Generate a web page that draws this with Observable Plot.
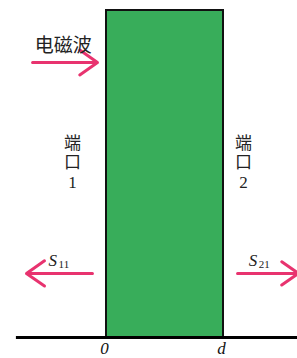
<!DOCTYPE html>
<html><head><meta charset="utf-8">
<script src="https://cdn.jsdelivr.net/npm/d3@7"></script>
<script src="https://cdn.jsdelivr.net/npm/@observablehq/plot@0.6"></script>
<style>body{margin:0;background:#fff;} svg{display:block;}</style>
</head><body>
<div id="chart"></div>
<script>
// slab from 0 to d (d = 1 in data units); height normalized 0..1
const slab = [{x1: 0, x2: 1, y1: 0, y2: 1}];
const tickValues = [0, 1];
const tickLabels = ["0", "d"];
const baseLine = [{x1: -0.77, x2: 1.64}];
const arrows = [
  {name: "incident", x1: -0.632, x2: -0.077, y: 0.841},
  {name: "S11", x1: -0.12, x2: -0.684, y: 0.196},
  {name: "S21", x1: 1.12, x2: 1.64, y: 0.196}
];
const waveLabel = [{text: "电磁波", x: -0.37, y: 0.893}];
const portChars1 = ["端", "口", "1"];
const portChars2 = ["端", "口", "2"];
const portY = [0.594, 0.535, 0.474];
const portX = [-0.29, 1.17];
const sLabels = [{main: "S", sub: "11", x: -0.495, y: 0.236}, {main: "S", sub: "21", x: 1.215, y: 0.236}];

const pink = "#e8336f";
const serif = "'Liberation Serif', 'Noto Sans CJK SC', serif";

const portData = [
  ...portChars1.map((c, i) => ({t: c, x: portX[0], y: portY[i]})),
  ...portChars2.map((c, i) => ({t: c, x: portX[1], y: portY[i]}))
];

const chart = Plot.plot({
  width: 297, height: 358,
  margin: 0,
  x: {domain: [0, 1], range: [106, 223], axis: null},
  y: {domain: [0, 1], range: [337, 10], axis: null},
  marks: [
    Plot.rect(slab, {x1: "x1", x2: "x2", y1: "y1", y2: "y2", fill: "#38ad5a", stroke: "#111", strokeWidth: 2}),
    Plot.ruleY([0], {x1: baseLine[0].x1, x2: baseLine[0].x2, stroke: "#000", strokeWidth: 3}),
    Plot.text(tickValues, {x: d => d, y: 0, text: (d, i) => tickLabels[i], dy: 11, dx: -2, fontSize: 17, fontStyle: "italic", fontFamily: serif, fill: "#111"}),
    Plot.arrow(arrows, {x1: "x1", x2: "x2", y1: "y", y2: "y", stroke: pink, strokeWidth: 3, headLength: 12, headAngle: 70, bend: 0}),
    Plot.text(waveLabel, {x: "x", y: "y", text: "text", fontSize: 19, fontFamily: serif, fill: "#222"}),
    Plot.text(portData, {x: "x", y: "y", text: "t", fontSize: 17, fontFamily: serif, fill: "#222"}),
    Plot.text(sLabels, {x: "x", y: "y", text: "main", fontSize: 17, fontStyle: "italic", fontFamily: serif, fill: "#222", textAnchor: "start"}),
    Plot.text(sLabels, {x: "x", y: "y", text: "sub", fontSize: 11, fontFamily: serif, fill: "#222", textAnchor: "start", dx: 10, dy: 4})
  ]
});
document.getElementById("chart").appendChild(chart);
</script>
</body></html>
